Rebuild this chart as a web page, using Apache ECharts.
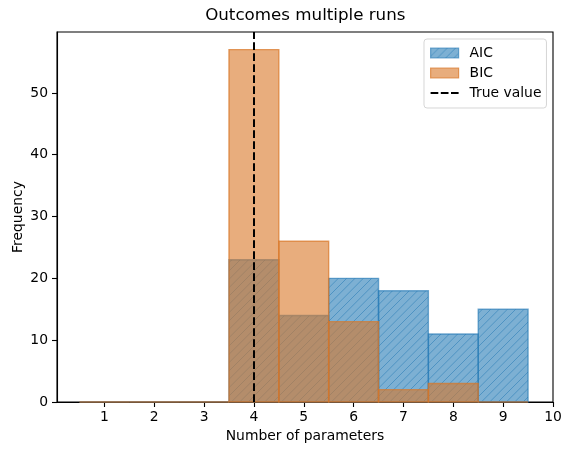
<!DOCTYPE html>
<html><head><meta charset="utf-8">
<script src="https://cdn.jsdelivr.net/npm/echarts@6/dist/echarts.min.js"></script>
<style>html,body{margin:0;padding:0;background:#fff}#c{width:571px;height:455px}</style>
</head><body><div id="c"></div>
<script>
// ---- data ----
const binCenters = [1, 2, 3, 4, 5, 6, 7, 8, 9];
const aicCounts  = [0, 0, 0, 23, 14, 20, 18, 11, 15];
const bicCounts  = [0, 0, 0, 57, 26, 13, 2, 3, 0];
const trueValue  = 4;
const xTicks = [1, 2, 3, 4, 5, 6, 7, 8, 9, 10];
const yTicks = [0, 10, 20, 30, 40, 50];
const seriesNames = ['AIC', 'BIC', 'True value'];
const chartTitle = 'Outcomes multiple runs';
const xLabel = 'Number of parameters';
const yLabel = 'Frequency';

// ---- styles ----
const FONT = 'DejaVu Sans';
const binWidth = 1;
const xMin = 0.05, xMax = 10;
const yMax = 59.85;
const aicFill = 'rgba(31,119,180,0.58)';
const aicEdge = 'rgba(31,119,180,0.6)';
const aicHatch = 'rgba(31,119,180,0.5)';
const bicFill = 'rgba(217,118,38,0.6)';
const bicEdge = 'rgba(217,118,38,0.7)';

function makeHatch(bg, line) {
  const s = 25;
  const c = document.createElement('canvas');
  c.width = s; c.height = s;
  const ctx = c.getContext('2d');
  ctx.fillStyle = bg; ctx.fillRect(0, 0, s, s);
  ctx.strokeStyle = line; ctx.lineWidth = 1.0;
  const step = s / 3;
  for (let k = -1; k <= 7; k++) {
    const cc = k * step;
    ctx.beginPath();
    ctx.moveTo(cc + 5, -5);
    ctx.lineTo(cc - s - 5, s + 5);
    ctx.stroke();
  }
  return { image: c, repeat: 'repeat' };
}
const aicPattern = makeHatch(aicFill, aicHatch);

function histRender(fill, stroke) {
  return function (params, api) {
    const x = api.value(0), y = api.value(1);
    const p0 = api.coord([x - binWidth / 2, 0]);
    const p1 = api.coord([x + binWidth / 2, y]);
    return {
      type: 'rect',
      shape: { x: p0[0], y: p1[1], width: p1[0] - p0[0], height: p0[1] - p1[1] },
      style: { fill: fill, stroke: stroke, lineWidth: 1.4 }
    };
  };
}

const chart = echarts.init(document.getElementById('c'), null, { renderer: 'canvas' });
chart.setOption({
  animation: false,
  backgroundColor: '#fff',
  textStyle: { fontFamily: FONT },
  title: {
    text: chartTitle, left: 305.3, top: 7, textAlign: 'center', padding: 0,
    textStyle: { fontFamily: FONT, fontSize: 16.7, fontWeight: 'normal', color: '#000' }
  },
  grid: {
    left: 57, right: 18, top: 32, bottom: 53,
    show: true, borderColor: '#000', borderWidth: 1.1, backgroundColor: 'transparent',
    outerBoundsMode: 'none', containLabel: false
  },
  legend: {
    orient: 'vertical', left: 424, top: 39,
    padding: [7, 5, 8, 6], itemGap: 6,
    itemWidth: 28, itemHeight: 10,
    selectedMode: false,
    backgroundColor: 'rgba(255,255,255,0.8)',
    borderColor: 'rgba(204,204,204,0.8)', borderWidth: 1, borderRadius: 3,
    textStyle: { fontFamily: FONT, fontSize: 13.9, color: '#000', padding: [0, 0, 0, 6] },
    data: [
      { name: seriesNames[0], icon: 'rect', itemStyle: { color: aicPattern, borderColor: aicEdge, borderWidth: 1.2 } },
      { name: seriesNames[1], icon: 'rect', itemStyle: { color: bicFill, borderColor: bicEdge, borderWidth: 1.2 } },
      { name: seriesNames[2], icon: 'path://M0,0h7.7v2h-7.7z M10.2,0h7.7v2h-7.7z M20.4,0h7.6v2h-7.6z',
        itemStyle: { color: '#000', borderWidth: 0 } }
    ]
  },
  xAxis: {
    type: 'value', min: xMin, max: xMax,
    name: xLabel, nameLocation: 'middle', nameGap: 27, nameMoveOverlap: false,
    nameTextStyle: { fontFamily: FONT, fontSize: 13.9, color: '#000' },
    axisLine: { show: true, onZero: false, lineStyle: { color: '#000', width: 1.1 } },
    axisTick: { show: true, customValues: xTicks, length: 5, lineStyle: { color: '#000', width: 1.1 } },
    axisLabel: { customValues: xTicks, color: '#000', fontFamily: FONT, fontSize: 13.9, margin: 8 },
    splitLine: { show: false }
  },
  yAxis: {
    type: 'value', min: 0, max: yMax,
    name: yLabel, nameLocation: 'middle', nameGap: 32, nameRotate: 90, nameMoveOverlap: false,
    nameTextStyle: { fontFamily: FONT, fontSize: 13.9, color: '#000' },
    axisLine: { show: true, lineStyle: { color: '#000', width: 1.1 } },
    axisTick: { show: true, customValues: yTicks, length: 5, lineStyle: { color: '#000', width: 1.1 } },
    axisLabel: { customValues: yTicks, color: '#000', fontFamily: FONT, fontSize: 13.9, margin: 9 },
    splitLine: { show: false }
  },
  series: [
    {
      name: seriesNames[0], type: 'custom', z: 2,
      renderItem: histRender(aicPattern, aicEdge),
      encode: { x: 0, y: 1 },
      itemStyle: { color: aicFill },
      data: binCenters.map((c, i) => [c, aicCounts[i]])
    },
    {
      name: seriesNames[1], type: 'custom', z: 3,
      renderItem: histRender(bicFill, bicEdge),
      encode: { x: 0, y: 1 },
      itemStyle: { color: bicFill },
      data: binCenters.map((c, i) => [c, bicCounts[i]])
    },
    {
      name: seriesNames[2], type: 'line', z: 5, data: [],
      itemStyle: { color: '#000' },
      markLine: {
        silent: true, symbol: 'none', label: { show: false },
        lineStyle: { color: '#000', width: 2, type: [7.7, 3.3] },
        data: [{ xAxis: trueValue }]
      }
    }
  ]
});
</script>
</body></html>
